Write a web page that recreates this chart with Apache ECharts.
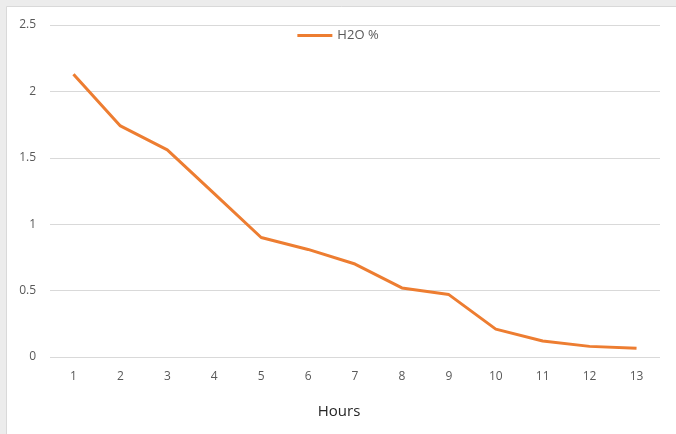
<!DOCTYPE html>
<html>
<head>
<meta charset="utf-8">
<script src="https://cdn.jsdelivr.net/npm/echarts@6/dist/echarts.min.js"></script>
<style>
html,body{margin:0;padding:0;background:#fff;}
#c{width:676px;height:434px;}
</style>
</head>
<body>
<div id="c"></div>
<script>
var hours = ['1','2','3','4','5','6','7','8','9','10','11','12','13'];
var h2o = [2.13, 1.74, 1.56, 1.23, 0.90, 0.81, 0.70, 0.52, 0.47, 0.21, 0.12, 0.08, 0.065];
var seriesName = 'H2O %';
var xTitle = 'Hours';

var chart = echarts.init(document.getElementById('c'), null, {renderer:'canvas'});
chart.setOption({
  animation: false,
  backgroundColor: '#ececec',
  graphic: [{
    type: 'rect', left: 6, top: 6, shape: {width: 680, height: 440},
    style: {fill: '#ffffff', stroke: '#d9d9d9', lineWidth: 1}, z: -10
  }],
  legend: {
    top: 24, left: 'center',
    itemWidth: 35, itemHeight: 3, itemGap: 4,
    icon: 'rect',
    textStyle: {color: '#595959', fontSize: 13, fontFamily: 'Open Sans'},
    data: [seriesName]
  },
  grid: {left: 50, right: 16, top: 25, bottom: 77},
  xAxis: {
    type: 'category', data: hours, boundaryGap: true,
    name: xTitle, nameLocation: 'middle', nameGap: 47,
    nameTextStyle: {color: '#262626', fontSize: 15, fontFamily: 'Open Sans', padding: [0, 32, 0, 0]},
    axisLine: {show: false}, axisTick: {show: false},
    axisLabel: {color: '#595959', fontSize: 12, margin: 14, fontFamily: 'Open Sans'}
  },
  yAxis: {
    type: 'value', min: 0, max: 2.5, interval: 0.5,
    axisLine: {show: false}, axisTick: {show: false},
    axisLabel: {color: '#595959', fontSize: 12, margin: 14, fontFamily: 'Open Sans'},
    splitLine: {lineStyle: {color: '#d9d9d9', width: 1}}
  },
  series: [{
    name: seriesName, type: 'line', data: h2o,
    showSymbol: false, symbol: 'none',
    lineStyle: {color: '#ED7D31', width: 3},
    itemStyle: {color: '#ED7D31'}
  }]
});
</script>
</body>
</html>
